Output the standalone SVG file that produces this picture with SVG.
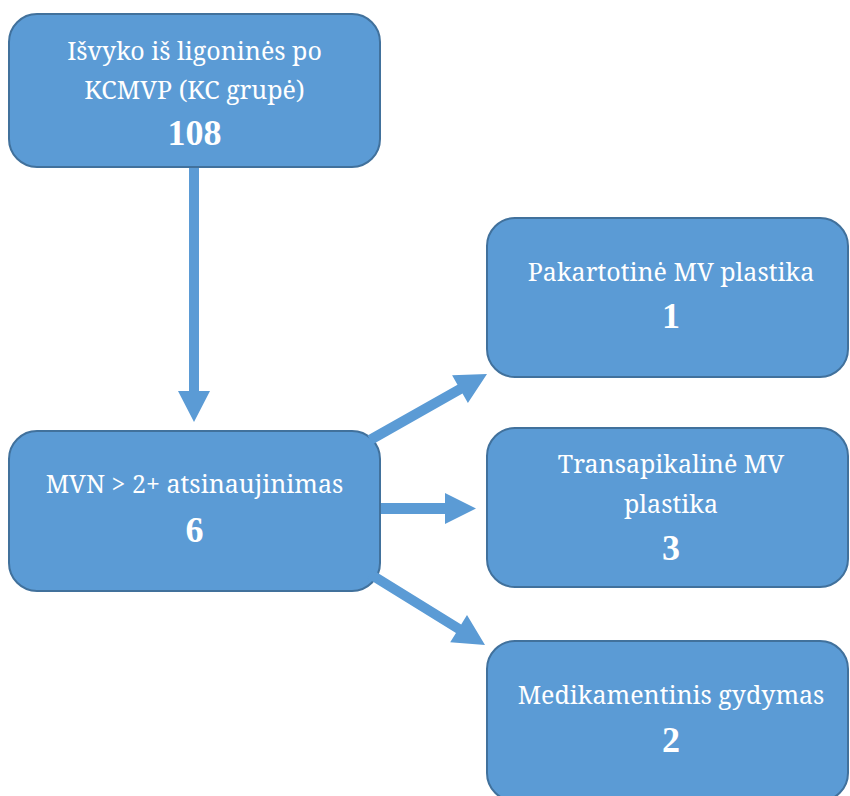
<svg xmlns="http://www.w3.org/2000/svg" width="850" height="796" viewBox="0 0 850 796">
<style>
.box{fill:#5B9BD5;stroke:#41719C;stroke-width:2}
.t{font-family:'Noto Serif','Liberation Serif',serif;font-size:25px;fill:#ffffff;text-anchor:middle}
.n{font-family:'Liberation Serif','Noto Serif',serif;font-size:36px;font-weight:bold;fill:#ffffff;text-anchor:middle}
.arr{fill:#5B9BD5}
</style>
<rect width="850" height="796" fill="#ffffff"/>
<g id="n1">
<rect class="box" x="9" y="14" width="371" height="153" rx="28"/>
<text class="t" x="194.5" y="60">Išvyko iš ligoninės po</text>
<text class="t" x="194.5" y="99">KCMVP (KC grupė)</text>
<text class="n" x="194.5" y="145">108</text>
</g>
<g id="n2">
<rect class="box" x="9" y="431" width="371" height="160" rx="28"/>
<text class="t" x="194.5" y="493">MVN &gt; 2+ atsinaujinimas</text>
<text class="n" x="194.5" y="542">6</text>
</g>
<g id="n3">
<rect class="box" x="487" y="218" width="361" height="159" rx="28"/>
<text class="t" x="671" y="281">Pakartotinė MV plastika</text>
<text class="n" x="671" y="328">1</text>
</g>
<g id="n4">
<rect class="box" x="487" y="428" width="361" height="159" rx="28"/>
<text class="t" x="671" y="473">Transapikalinė MV</text>
<text class="t" x="671" y="513">plastika</text>
<text class="n" x="671" y="560">3</text>
</g>
<g id="n5">
<rect class="box" x="487" y="641" width="361" height="160" rx="28"/>
<text class="t" x="671" y="704">Medikamentinis gydymas</text>
<text class="n" x="671" y="752">2</text>
</g>
<g id="connectors">
<polygon class="arr" points="189,168 199,168 199,391 210,391 194,422 178,391 189,391"/>
<polygon class="arr" points="381,503 445,503 445,493 476,508.5 445,524 445,514 381,514"/>
<polygon class="arr" points="372.5,444.4 462.5,393.6 467.9,403.1 487,374 452.1,375.3 457.5,384.8 367.5,435.6"/>
<polygon class="arr" points="367.4,578.3 456,633 450.2,642.3 485,645 467,615.1 461.2,624.4 372.6,569.7"/>
</g>
</svg>
